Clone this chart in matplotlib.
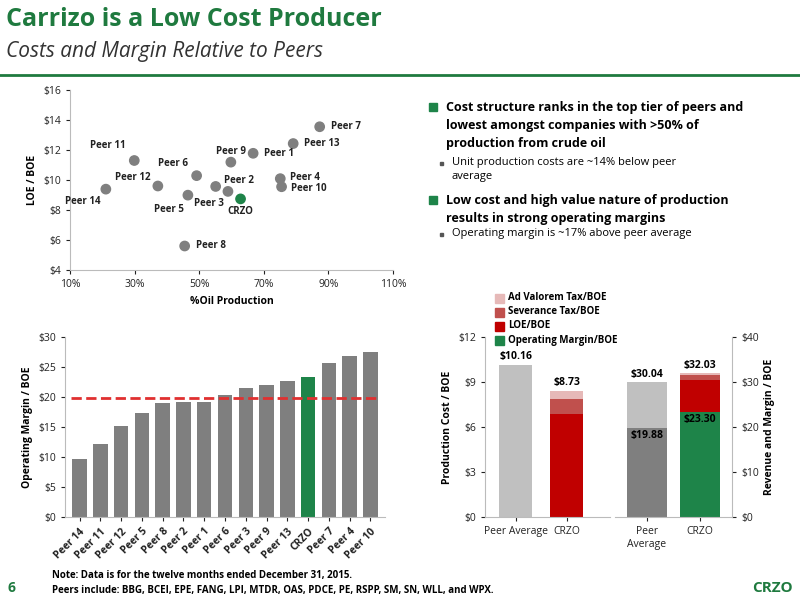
import matplotlib.pyplot as plt
import numpy as np
from matplotlib.lines import Line2D
from matplotlib.patches import Rectangle

GREEN = '#1e8449'
DGREEN = '#1f7a3f'
GRAY = '#7f7f7f'
RED = '#c00000'
plt.rcParams['font.family'] = ['Open Sans', 'DejaVu Sans']

# scatter: % oil production vs LOE/BOE
peers = ['Peer 7', 'Peer 13', 'Peer 1', 'Peer 9', 'Peer 11', 'Peer 6', 'Peer 4', 'Peer 10',
         'Peer 12', 'Peer 2', 'Peer 3', 'Peer 14', 'Peer 5', 'CRZO', 'Peer 8']
oil_pct = [87.3, 79.1, 66.7, 59.8, 29.9, 49.2, 75.1, 75.5, 37.2, 55.1, 58.9, 21.1, 46.5, 62.8, 45.5]
loe = [13.55, 12.43, 11.78, 11.19, 11.30, 10.29, 10.09, 9.55, 9.60, 9.57, 9.24, 9.39, 8.99, 8.74, 5.60]
label_off = [(8, 0), (8, 0), (8, 0), (0, 8), (-6, 11), (-6, 9), (7, 1), (7, -1),
             (-5, 6), (6, 4), (-3, -9), (-4, -9), (-3, -10), (0, -9), (8, 0)]

# operating margin bar chart
bar_names = ['Peer 14', 'Peer 11', 'Peer 12', 'Peer 5', 'Peer 8', 'Peer 2', 'Peer 1', 'Peer 6',
             'Peer 3', 'Peer 9', 'Peer 13', 'CRZO', 'Peer 7', 'Peer 4', 'Peer 10']
margin = [9.7, 12.1, 15.2, 17.4, 19.0, 19.1, 19.2, 20.3, 21.5, 22.0, 22.7, 23.3, 25.6, 26.9, 27.5]
peer_avg_margin = 19.88

# production cost and revenue stacks
cost_cats = ['Peer Average', 'CRZO']
peer_cost = 10.16
crzo_loe, crzo_sev, crzo_adv = 6.9, 1.0, 0.5
rev_cats = ['Peer\nAverage', 'CRZO']
peer_margin_r, peer_rev = 19.88, 30.04
crzo_margin_r, crzo_loe_r, crzo_sev_r, crzo_adv_r = 23.30, 7.2, 1.0, 0.53

fig = plt.figure(figsize=(8, 6), dpi=100)

def fx(px):
    return px / 800

def fy(py):
    return 1 - py / 600

# header
fig.text(fx(6), fy(20), 'Carrizo is a Low Cost Producer', color=DGREEN, fontsize=18, fontweight='bold', va='center')
fig.text(fx(6), fy(52), 'Costs and Margin Relative to Peers', color='#333333', fontsize=15, style='italic', va='center')
fig.add_artist(Line2D([0, 1], [fy(75), fy(75)], color=DGREEN, lw=2))

# scatter
ax1 = fig.add_axes([fx(70), fy(270), fx(323), fy(90) - fy(270)])
cols = [GREEN if n == 'CRZO' else GRAY for n in peers]
ax1.scatter(oil_pct, loe, s=45, c=cols, zorder=3)
for n, x, y, (dx, dy) in zip(peers, oil_pct, loe, label_off):
    ha = 'left' if dx > 0 else ('right' if dx < 0 else 'center')
    ax1.annotate(n, (x, y), xytext=(dx, dy), textcoords='offset points', ha=ha, va='center',
                 fontsize=7, fontweight='bold', color='#222222')
ax1.set_xlim(10, 110)
ax1.set_ylim(4, 16)
ax1.set_xticks(range(10, 111, 20))
ax1.set_xticklabels([f'{v}%' for v in range(10, 111, 20)])
ax1.set_yticks(range(4, 17, 2))
ax1.set_yticklabels([f'${v}' for v in range(4, 17, 2)])
ax1.set_xlabel('%Oil Production', fontsize=7.5, fontweight='bold')
ax1.set_ylabel('LOE / BOE', fontsize=7.5, fontweight='bold')
ax1.spines[['top', 'right']].set_visible(False)
ax1.spines[['left', 'bottom']].set_color('#bbbbbb')
ax1.tick_params(labelsize=7.5, colors='#222222', length=3)

# bar chart
ax2 = fig.add_axes([fx(65), fy(517), fx(320), fy(337) - fy(517)])
bx = np.arange(len(bar_names))
bcols = [GREEN if n == 'CRZO' else GRAY for n in bar_names]
ax2.bar(bx, margin, width=0.7, color=bcols)
ax2.axhline(peer_avg_margin, color='#e03030', ls='--', lw=2, xmin=0.02, xmax=0.98)
ax2.set_xlim(-0.7, len(bar_names) - 0.3)
ax2.set_ylim(0, 30)
ax2.set_yticks(range(0, 31, 5))
ax2.set_yticklabels([f'${v}' for v in range(0, 31, 5)])
ax2.set_xticks(bx)
ax2.set_xticklabels(bar_names, rotation=45, ha='right', rotation_mode='anchor', fontweight='bold')
ax2.set_ylabel('Operating Margin / BOE', fontsize=7.5, fontweight='bold')
ax2.spines[['top', 'right']].set_visible(False)
ax2.spines[['left', 'bottom']].set_color('#bbbbbb')
ax2.tick_params(labelsize=7.5, colors='#222222', length=3)

# production cost (left)
ax3 = fig.add_axes([fx(485), fy(517), fx(125), fy(337) - fy(517)])
ax3.bar(0, peer_cost, width=0.65, color='#c0c0c0')
ax3.bar(1, crzo_loe, width=0.65, color=RED)
ax3.bar(1, crzo_sev, bottom=crzo_loe, width=0.65, color='#c0504d')
ax3.bar(1, crzo_adv, bottom=crzo_loe + crzo_sev, width=0.65, color='#e6b9b8')
ax3.text(0, peer_cost + 0.2, '$10.16', ha='center', va='bottom', fontsize=7.5, fontweight='bold')
ax3.text(1, crzo_loe + crzo_sev + crzo_adv + 0.2, '$8.73', ha='center', va='bottom', fontsize=7.5, fontweight='bold')
ax3.set_xlim(-0.6, 1.85)
ax3.set_ylim(0, 12)
ax3.set_yticks(range(0, 13, 3))
ax3.set_yticklabels([f'${v}' for v in range(0, 13, 3)])
ax3.set_xticks([0, 1])
ax3.set_xticklabels(cost_cats)
ax3.set_ylabel('Production Cost / BOE', fontsize=7.5, fontweight='bold')
ax3.spines[['top', 'right']].set_visible(False)

# revenue and margin (right)
ax4 = fig.add_axes([fx(615), fy(517), fx(117), fy(337) - fy(517)])
ax4.bar(0, peer_margin_r, width=0.75, color=GRAY)
ax4.bar(0, peer_rev - peer_margin_r, bottom=peer_margin_r, width=0.75, color='#c0c0c0')
ax4.bar(1, crzo_margin_r, width=0.75, color=GREEN)
ax4.bar(1, crzo_loe_r, bottom=crzo_margin_r, width=0.75, color=RED)
ax4.bar(1, crzo_sev_r, bottom=crzo_margin_r + crzo_loe_r, width=0.75, color='#c0504d')
ax4.bar(1, crzo_adv_r, bottom=crzo_margin_r + crzo_loe_r + crzo_sev_r, width=0.75, color='#e6b9b8')
ax4.text(0, peer_rev + 0.5, '$30.04', ha='center', va='bottom', fontsize=7.5, fontweight='bold')
ax4.text(0, peer_margin_r - 0.5, '$19.88', ha='center', va='top', fontsize=7.5, fontweight='bold')
ax4.text(1, 32.03 + 0.5, '$32.03', ha='center', va='bottom', fontsize=7.5, fontweight='bold')
ax4.text(1, crzo_margin_r - 0.5, '$23.30', ha='center', va='top', fontsize=7.5, fontweight='bold')
ax4.set_xlim(-0.6, 1.6)
ax4.set_ylim(0, 40)
ax4.yaxis.tick_right()
ax4.yaxis.set_label_position('right')
ax4.set_yticks(range(0, 41, 10))
ax4.set_yticklabels([f'${v}' for v in range(0, 41, 10)])
ax4.set_xticks([0, 1])
ax4.set_xticklabels(rev_cats)
ax4.set_ylabel('Revenue and Margin / BOE', fontsize=7.5, fontweight='bold')
ax4.spines[['top', 'left']].set_visible(False)
for ax in [ax3, ax4]:
    for s in ax.spines.values():
        s.set_color('#bbbbbb')
    ax.tick_params(labelsize=7.5, colors='#222222', length=3)

# legend for stacks
leg_items = [('Ad Valorem Tax/BOE', '#e6b9b8'), ('Severance Tax/BOE', '#c0504d'),
             ('LOE/BOE', RED), ('Operating Margin/BOE', GREEN)]
for i, (lab, c) in enumerate(leg_items):
    y = 298 + i * 14
    fig.add_artist(Rectangle((fx(495), fy(y + 5)), fx(9), fy(y - 4) - fy(y + 5), color=c))
    fig.text(fx(508), fy(y), lab, fontsize=7, fontweight='bold', va='center')

# bullets
bullets = [(427, 107, 'Cost structure ranks in the top tier of peers and\nlowest amongst companies with >50% of\nproduction from crude oil', 9, True),
           (452, 170, 'Unit production costs are ~14% below peer\naverage', 8, False),
           (427, 200, 'Low cost and high value nature of production\nresults in strong operating margins', 9, True),
           (452, 241, 'Operating margin is ~17% above peer average', 8, False)]
for x, y, t, fs, main in bullets:
    if main:
        fig.add_artist(Rectangle((fx(x + 2), fy(y + 4)), fx(8), fy(y - 4) - fy(y + 4), color=GREEN))
        fig.text(fx(x + 19), fy(y - 6), t, fontsize=fs, fontweight='bold', va='top', linespacing=1.5)
    else:
        fig.add_artist(Rectangle((fx(x - 12), fy(y - 5)), fx(3), fy(y - 8) - fy(y - 5), color='#555555'))
        fig.text(fx(x), fy(y - 13), t, fontsize=fs, va='top', linespacing=1.4)

# footer
fig.text(fx(52), fy(578), 'Note: Data is for the twelve months ended December 31, 2015.', fontsize=7, fontweight='bold')
fig.text(fx(52), fy(593), 'Peers include: BBG, BCEI, EPE, FANG, LPI, MTDR, OAS, PDCE, PE, RSPP, SM, SN, WLL, and WPX.',
         fontsize=7, fontweight='bold')
fig.text(fx(8), fy(592), '6', fontsize=10, fontweight='bold', color=DGREEN)
fig.text(fx(793), fy(592), 'CRZO', fontsize=11, fontweight='bold', color=DGREEN, ha='right')

plt.savefig('out.png', dpi=100)
